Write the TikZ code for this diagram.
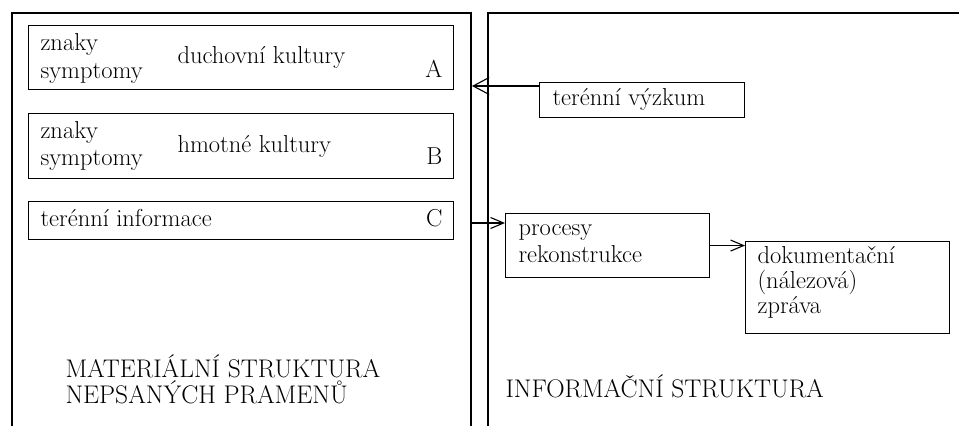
\documentclass[tikz,border=0pt]{standalone}
\usetikzlibrary{arrows.meta}
\begin{document}
\begin{tikzpicture}[x=1pt,y=-1pt, line width=1.1pt,
  box/.style={draw, rectangle, inner sep=0pt, anchor=north west},
  txt/.style={inner sep=0pt, anchor=base west, font=\fontsize{24.5}{28}\selectfont},
  txtr/.style={inner sep=0pt, anchor=base east, font=\fontsize{24.5}{28}\selectfont},
  captxt/.style={inner sep=0pt, anchor=base west, font=\fontsize{25.5}{28}\selectfont},
  arr/.style={-{Straight Barb[length=13pt,width=11pt,line width=1.1pt]}},
  bigarr/.style={-{Straight Barb[length=16pt,width=17pt,line width=1.1pt]}}]
\useasboundingbox (0,0) rectangle (959,426);
% open frames
\draw (12,426) -- (12,13) -- (471,13) -- (471,426);
\draw (959,13) -- (488,13) -- (488,426);
% boxes
\node[box, minimum width=425pt, minimum height=64pt] (A) at (28,25) {};
\node[box, minimum width=425pt, minimum height=65pt] (B) at (28,113) {};
\node[box, minimum width=425pt, minimum height=38pt] (C) at (28,201) {};
\node[box, minimum width=205pt, minimum height=35pt] (Tv) at (539,82) {};
\node[box, minimum width=204pt, minimum height=64pt] (P) at (505,213) {};
\node[box, minimum width=204pt, minimum height=92pt] (D) at (745,241) {};
% texts A
\node[txt] (a1) at (40,50) {znaky};
\node[txt] (a2) at (40,78) {symptomy};
\node[txt] (a3) at (177,63) {duchovní kultury};
\node[txtr] (a4) at (443,77) {A};
% texts B
\node[txt] (b1) at (40,138) {znaky};
\node[txt] (b2) at (40,165) {symptomy};
\node[txt] (b3) at (177,152) {hmotné kultury};
\node[txtr] (b4) at (443,164) {B};
% texts C
\node[txt] (c1) at (40,226) {terénní informace};
\node[txtr] (c2) at (443,226) {C};
% right side
\node[txt] (t1) at (552,105) {terénní výzkum};
\node[txt] (p1) at (518,235) {procesy};
\node[txt] (p2) at (518,262) {rekonstrukce};
\node[txt] (d1) at (757,263) {dokumentační};
\node[txt] (d2) at (757,288) {(nálezová)};
\node[txt] (d3) at (757,313) {zpráva};
% titles
\node[captxt] (m1) at (65,377) {MATERIÁLNÍ STRUKTURA};
\node[captxt] (m2) at (65,403) {NEPSANÝCH PRAMENŮ};
\node[captxt] (i1) at (505,397) {INFORMAČNÍ STRUKTURA};
% arrows
\coordinate (e1) at (472,86);
\coordinate (s2) at (471,223);
\draw[bigarr] (Tv.west |- e1) -- (e1);
\draw[arr] (s2) -- (P.west |- s2);
\draw[arr] (P.east) -- (D.west |- P.east);
\end{tikzpicture}
\end{document}
